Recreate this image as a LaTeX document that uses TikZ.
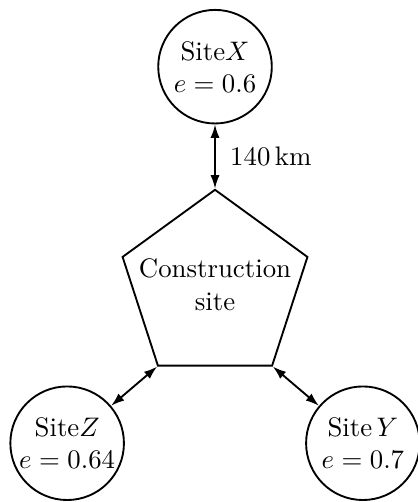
\documentclass[tikz,border=0pt]{standalone}
\usetikzlibrary{shapes.geometric,arrows.meta}

\tikzset{
	site/.style={draw,circle,line width=0.7pt,minimum size=1.49cm,inner sep=0pt,align=center},
	works/.style={draw,regular polygon,regular polygon sides=5,line width=0.7pt,minimum size=2.55cm,inner sep=0pt},
	link/.style={{Latex[length=5pt,width=3.4pt]}-{Latex[length=5pt,width=3.4pt]},line width=0.7pt}
}

\begin{document}
\begin{tikzpicture}
			\useasboundingbox (-2.821,-2.821) rectangle (2.663,3.765);
			
			\node[works] (C) at (0,0) {};
			\node[align=center] (Clabel) at (0,0.03) {Construction\\site};
			
			\node[site] (X) at (0,2.89) {Site$X$\\$e=0.6$};
			\node[site] (Z) at (-1.94,-2.05) {Site$Z$\\$e=0.64$};
			\node[site] (Y) at (1.94,-2.05) {Site$\,Y$\\$e=0.7$};
			
			\draw[link] (X) -- (C.corner 1) node[midway,right=2pt] (dist) {140\,km};
			\draw[link] (C.corner 3) -- (Z);
			\draw[link] (C.corner 4) -- (Y);
		\end{tikzpicture}
\end{document}
